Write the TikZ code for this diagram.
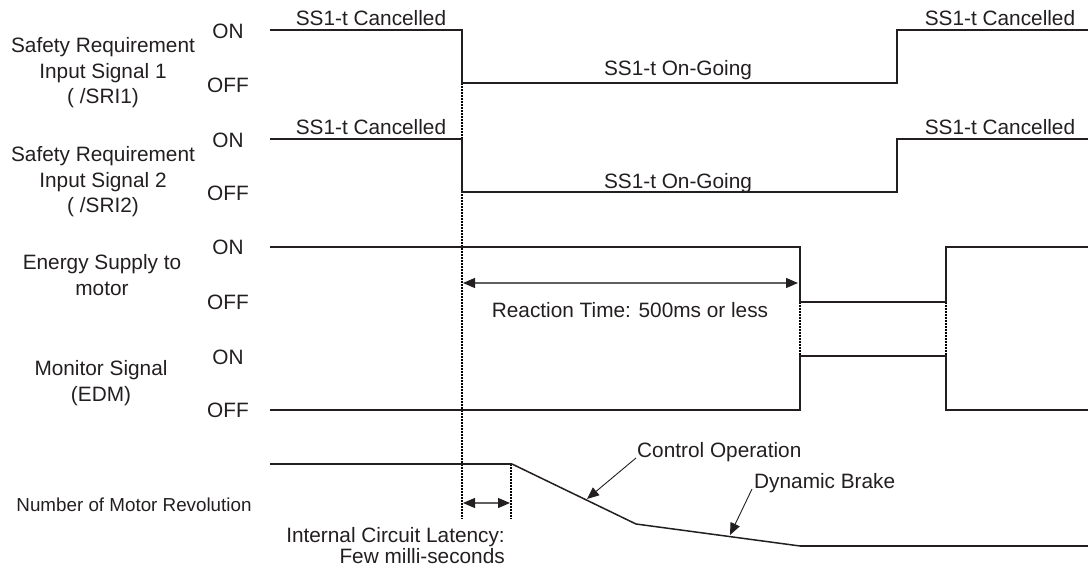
\documentclass[tikz,border=0pt]{standalone}
\usepackage{fontspec}
\setmainfont{Liberation Sans}
\usetikzlibrary{arrows.meta}
\definecolor{ink}{HTML}{231F20}
\definecolor{arr}{HTML}{606060}
\begin{document}
\begin{tikzpicture}[x=1pt,y=-1pt,
  wave/.style={draw=ink,line width=2.2pt,line join=miter},
  slope/.style={draw=ink,line width=1.5pt,line join=round},
  guide/.style={draw=black,line width=2.6pt,dash pattern=on 2pt off 1pt},
  dimarrow/.style={draw=arr,line width=1.3pt,{Triangle[length=12pt,width=10pt,color=ink]}-{Triangle[length=12pt,width=10pt,color=ink]}},
  callout/.style={draw=ink,line width=0.9pt,-{Triangle[length=12pt,width=10pt,color=ink]}},
  lbl/.style={font=\fontsize{20.8}{25.5}\selectfont,text=ink,inner sep=0pt,align=center},
  state/.style={font=\fontsize{20.8}{25}\selectfont,text=ink,inner sep=0pt,anchor=center},
  txt/.style={font=\fontsize{20.8}{25}\selectfont,text=ink,inner sep=0pt,anchor=base}]
\useasboundingbox (0,0) rectangle (1088,569);

% ---- left labels
\node[lbl] (l1) at (103,73) {Safety Requirement\\Input Signal 1\\( /SRI1)};
\node[lbl] (l2) at (103,182) {Safety Requirement\\Input Signal 2\\( /SRI2)};
\node[lbl] (l3) at (102,275) {Energy Supply to\\motor};
\node[lbl] (l4) at (101,383) {Monitor Signal\\(EDM)};
\node[lbl,font=\fontsize{18.8}{22}\selectfont] (l5) at (134,505) {Number of Motor Revolution};

% ---- ON / OFF
\node[state] (on1) at (228,31) {ON};
\node[state] (off1) at (228,85) {OFF};
\node[state] (on2) at (228,140) {ON};
\node[state] (off2) at (228,193) {OFF};
\node[state] (on3) at (228,247) {ON};
\node[state] (off3) at (228,302) {OFF};
\node[state] (on4) at (228,357) {ON};
\node[state] (off4) at (228,410) {OFF};

% ---- waveform points
\coordinate (a1) at (270,30);  \coordinate (a2) at (462,30);
\coordinate (a3) at (462,83);  \coordinate (a4) at (897,83);
\coordinate (a5) at (897,30);  \coordinate (a6) at (1088,30);

\coordinate (b1) at (270,139); \coordinate (b2) at (462,139);
\coordinate (b3) at (462,192); \coordinate (b4) at (897,192);
\coordinate (b5) at (897,139); \coordinate (b6) at (1088,139);

\coordinate (c1) at (270,247); \coordinate (c2) at (800,247);
\coordinate (c3) at (800,302); \coordinate (c4) at (946,302);
\coordinate (c5) at (946,247); \coordinate (c6) at (1088,247);

\coordinate (d1) at (270,410); \coordinate (d2) at (800,410);
\coordinate (d3) at (800,356); \coordinate (d4) at (946,356);
\coordinate (d5) at (946,410); \coordinate (d6) at (1088,410);

\coordinate (m1) at (270,464); \coordinate (m2) at (512,464);
\coordinate (m3) at (636,524); \coordinate (m4) at (800,546);
\coordinate (m5) at (1088,546);

% ---- guide (dotted) lines
\coordinate (g1b) at (462,519);
\coordinate (g2b) at (511,519);
\coordinate (g2t) at (511,464);
\draw[guide] (a3) -- (g1b);
\draw[guide] (g2t) -- (g2b);
\draw[guide] (c3) -- (d3);
\draw[guide] (c4) -- (d4);

% ---- waveforms
\draw[wave] (a1) -- (a2) -- (a3) -- (a4) -- (a5) -- (a6);
\draw[wave] (b1) -- (b2) -- (b3) -- (b4) -- (b5) -- (b6);
\draw[wave] (c1) -- (c2) -- (c3) -- (c4) -- (c5) -- (c6);
\draw[wave] (d1) -- (d2) -- (d3) -- (d4) -- (d5) -- (d6);
\draw[wave] (m1) -- (m2);
\draw[slope] (m2) -- (m3) -- (m4);
\draw[wave] (m4) -- (m5);

% ---- state texts
\node[txt] (t1c) at (371,25.5) {SS1-t Cancelled};
\node[txt] (t1r) at (1000,25.5) {SS1-t Cancelled};
\node[txt] (t1o) at (678,76) {SS1-t On-Going};
\node[txt] (t2c) at (371,134.5) {SS1-t Cancelled};
\node[txt] (t2r) at (1000,134.5) {SS1-t Cancelled};
\node[txt] (t2o) at (678,189) {SS1-t On-Going};

% ---- reaction time
\coordinate (r1) at (463,283);
\coordinate (r2) at (798,283);
\draw[dimarrow] (r1) -- (r2);
\node[txt] (rt) at (630,317.5) {Reaction Time: 500ms or less};

% ---- latency
\coordinate (q1) at (463,503);
\coordinate (q2) at (510,503);
\draw[dimarrow] (q1) -- (q2);
\node[lbl,align=right,anchor=north east,font=\fontsize{20.8}{20.5}\selectfont] (lat) at (505,527.5) {Internal Circuit Latency:\\Few milli-seconds};

% ---- callouts
\node[txt,anchor=base west] (co) at (637,457) {Control Operation};
\node[txt,anchor=base west] (db) at (754,488) {Dynamic Brake};
\coordinate (cot) at (587,499);
\coordinate (dbt) at (730,535);
\coordinate (cos) at (636,458);
\coordinate (dbs) at (752,489);
\draw[callout] (cos) -- (cot);
\draw[callout] (dbs) -- (dbt);
\end{tikzpicture}
\end{document}
